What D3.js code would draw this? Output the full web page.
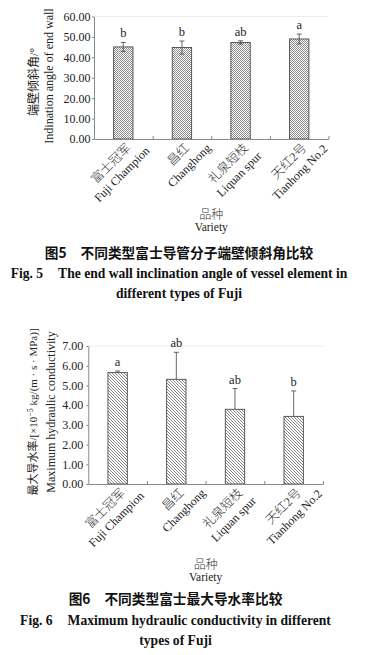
<!DOCTYPE html>
<html>
<head>
<meta charset="utf-8">
<script src="https://cdn.jsdelivr.net/npm/d3@7"></script>
<style>
  html, body { margin: 0; padding: 0; background: #fff; }
  svg { display: block; }
</style>
</head>
<body>
<svg id="chart" width="375" height="655"></svg>
<script>
/* Two bar charts (Fig. 5 / Fig. 6) with error bars and significance letters */

const SERIF = '"Liberation Serif", "Noto Sans CJK SC", serif';
const CJK   = '"Noto Sans CJK SC", sans-serif';

// ── data ──
const varietiesCn = ['富士冠军', '昌红', '礼泉短枝', '天红2号'];
const varietiesEn = ['Fuji Champion', 'Changhong', 'Liquan spur', 'Tianhong No.2'];

const angleMean    = [45.1, 44.8, 47.3, 49.0];
const angleErr     = [2.2, 3.2, 0.8, 2.4];
const angleLetters = ['b', 'b', 'ab', 'a'];
const angleTicks   = [0, 10, 20, 30, 40, 50, 60];

const condMean    = [5.65, 5.31, 3.79, 3.43];
const condErr     = [0.08, 1.37, 1.05, 1.29];
const condLetters = ['a', 'ab', 'ab', 'b'];
const condTicks   = [0, 1, 2, 3, 4, 5, 6, 7];

const svg = d3.select('#chart');
const defs = svg.append('defs');

// cross-hatch fill (Fig. 5)
const cross = defs.append('pattern').attr('id', 'cross')
  .attr('width', 2).attr('height', 2).attr('patternUnits', 'userSpaceOnUse');
cross.append('rect').attr('width', 2).attr('height', 2).attr('fill', '#fff');
cross.append('rect').attr('width', 1).attr('height', 1).attr('fill', '#8c8c8c');
cross.append('rect').attr('x', 1).attr('y', 1).attr('width', 1).attr('height', 1).attr('fill', '#8c8c8c');

// diagonal hatch fill (Fig. 6)
const hatch = defs.append('pattern').attr('id', 'hatch')
  .attr('width', 3).attr('height', 3).attr('patternUnits', 'userSpaceOnUse');
hatch.append('rect').attr('width', 3).attr('height', 3).attr('fill', '#fff');
hatch.append('path').attr('d', 'M0,0L3,3M-1,2L1,4M2,-1L4,1')
  .attr('stroke', '#7a7a7a').attr('stroke-width', 0.9);

function drawPanel(cfg) {
  const n = cfg.mean.length;
  const g = svg.append('g');

  const x = d3.scaleBand().domain(d3.range(n))
    .range([cfg.x0, cfg.x1]).paddingInner(0.67).paddingOuter(0.335);
  const xt = d3.scaleLinear().domain([0, n]).range([cfg.x0, cfg.x1]);
  const y = d3.scaleLinear().domain([0, d3.max(cfg.ticks)]).range([cfg.yb, cfg.yt]);

  // faint top line
  g.append('line')
    .attr('x1', cfg.x0).attr('x2', cfg.x1)
    .attr('y1', y(d3.max(cfg.ticks))).attr('y2', y(d3.max(cfg.ticks)))
    .attr('stroke', '#ececec');

  // bars
  g.selectAll('.bar').data(cfg.mean).join('rect')
    .attr('class', 'bar')
    .attr('x', (d, i) => x(i)).attr('width', x.bandwidth())
    .attr('y', d => y(d)).attr('height', d => y(0) - y(d))
    .attr('fill', `url(#${cfg.pattern})`)
    .attr('stroke', '#4a4a4a').attr('stroke-width', 0.9);

  // error bars
  const cap = 2.5;
  cfg.mean.forEach((m, i) => {
    const cx = x(i) + x.bandwidth() / 2;
    const hi = y(m + cfg.err[i]);
    const lo = cfg.twoSided ? y(m - cfg.err[i]) : y(m);
    const eg = g.append('g').attr('stroke', '#555').attr('stroke-width', 0.9);
    eg.append('line').attr('x1', cx).attr('x2', cx).attr('y1', hi).attr('y2', lo);
    eg.append('line').attr('x1', cx - cap).attr('x2', cx + cap).attr('y1', hi).attr('y2', hi);
    if (cfg.twoSided) {
      eg.append('line').attr('x1', cx - cap).attr('x2', cx + cap).attr('y1', lo).attr('y2', lo);
    }
    g.append('text')
      .attr('x', cx).attr('y', hi - 5)
      .attr('text-anchor', 'middle')
      .style('font-family', SERIF).style('font-size', '12.5px').attr('fill', '#222')
      .text(cfg.letters[i]);
  });

  // y axis
  const ya = g.append('g').attr('transform', `translate(${cfg.x0},0)`)
    .call(d3.axisLeft(y).tickValues(cfg.ticks).tickFormat(d3.format('.2f'))
      .tickSize(2).tickSizeOuter(0).tickPadding(cfg.tickPad));
  ya.select('.domain').attr('stroke', '#888');
  ya.selectAll('.tick line').attr('stroke', '#888');
  ya.selectAll('.tick text').style('font-family', SERIF).style('font-size', '12px').attr('fill', '#222');

  // x axis (ticks at category boundaries, pointing up)
  const xa = g.append('g').attr('transform', `translate(0,${cfg.yb})`)
    .call(d3.axisBottom(xt).tickValues(d3.range(1, n + 1)).tickFormat('')
      .tickSize(-3).tickSizeOuter(0));
  xa.select('.domain').attr('stroke', '#888');
  xa.selectAll('.tick line').attr('stroke', '#888');

  // rotated category labels
  cfg.mean.forEach((m, i) => {
    const cx = x(i) + x.bandwidth() / 2;
    const lg = g.append('g').attr('transform', `translate(${cx},${cfg.yb}) rotate(-45)`);
    const cn = lg.append('text')
      .attr('y', 12.7).attr('text-anchor', 'middle')
      .style('font-family', SERIF).style('font-size', '12.5px').style('font-weight', 300).attr('fill', '#333')
      .text(varietiesCn[i]);
    const w = cn.node().getComputedTextLength();
    const c = -1 - w / 2;
    cn.attr('x', c);
    lg.append('text')
      .attr('x', c).attr('y', 28).attr('text-anchor', 'middle')
      .style('font-family', SERIF).style('font-size', '12px').attr('fill', '#222')
      .text(varietiesEn[i]);
  });

  // x title
  const mid = (cfg.x0 + cfg.x1) / 2;
  g.append('text').attr('x', mid).attr('y', cfg.xTitleY)
    .attr('text-anchor', 'middle')
    .style('font-family', CJK).style('font-size', '12px').style('font-weight', 300).attr('fill', '#333')
    .text('品种');
  g.append('text').attr('x', mid).attr('y', cfg.xTitleY + 12)
    .attr('text-anchor', 'middle')
    .style('font-family', SERIF).style('font-size', '11.5px').attr('fill', '#222')
    .text('Variety');

  // y title (two rotated lines)
  const t1 = g.append('text')
    .attr('transform', `translate(${cfg.yTitleX[0]},${cfg.yTitleY[0]}) rotate(-90)`)
    .attr('text-anchor', 'middle')
    .style('font-family', SERIF).style('font-size', cfg.yTitleSize).attr('fill', '#222');
  cfg.yTitleCn.forEach(s => {
    const ts = t1.append('tspan').text(s.t);
    if (s.sup) ts.attr('dy', -4).style('font-size', '8px');
    if (s.after) ts.attr('dy', 4);
  });
  g.append('text')
    .attr('transform', `translate(${cfg.yTitleX[1]},${cfg.yTitleY[1]}) rotate(-90)`)
    .attr('text-anchor', 'middle')
    .style('font-family', SERIF).style('font-size', '12px').attr('fill', '#222')
    .text(cfg.yTitleEn);

  // caption
  const cap1 = g.append('text').attr('x', cfg.capX).attr('y', cfg.capY[0])
    .attr('text-anchor', 'middle')
    .style('font-family', CJK).style('font-size', '13.7px').style('font-weight', 'bold').attr('fill', '#111');
  cap1.append('tspan').text(cfg.capCn[0]);
  cap1.append('tspan').attr('dx', 14).text(cfg.capCn[1]);

  const cap2 = g.append('text').attr('x', cfg.capX).attr('y', cfg.capY[1])
    .attr('text-anchor', 'middle')
    .style('font-family', SERIF).style('font-size', '13.6px').style('font-weight', 'bold').attr('fill', '#111');
  cap2.append('tspan').text(cfg.capEn[0]);
  cap2.append('tspan').attr('dx', 15).text(cfg.capEn[1]);

  g.append('text').attr('x', cfg.capX).attr('y', cfg.capY[2])
    .attr('text-anchor', 'middle')
    .style('font-family', SERIF).style('font-size', '13.6px').style('font-weight', 'bold').attr('fill', '#111')
    .text(cfg.capEn[2]);
}

drawPanel({
  mean: angleMean, err: angleErr, letters: angleLetters, ticks: angleTicks,
  twoSided: true, pattern: 'cross',
  x0: 94, x1: 328.5, yb: 139, yt: 16.5, tickPad: 1.5,
  xTitleY: 219,
  yTitleCn: [{ t: '端壁倾斜角/°' }], yTitleEn: 'Indination angle of end wall',
  yTitleSize: '12px', yTitleX: [37.5, 52.5], yTitleY: [82, 76],
  capX: 179, capY: [257.5, 277.5, 297.5],
  capCn: ['图5', '不同类型富士导管分子端壁倾斜角比较'],
  capEn: ['Fig. 5', 'The end wall inclination angle of vessel element in', 'different types of Fuji']
});

drawPanel({
  mean: condMean, err: condErr, letters: condLetters, ticks: condTicks,
  twoSided: false, pattern: 'hatch',
  x0: 88.3, x1: 323, yb: 484, yt: 346, tickPad: 3,
  xTitleY: 568.5,
  yTitleCn: [{ t: '最大导水率/[×10' }, { t: '−5', sup: true }, { t: ' kg/(m · s · MPa)]', after: true }],
  yTitleEn: 'Maximum hydraulic conductivity',
  yTitleSize: '11px', yTitleX: [36.5, 55], yTitleY: [412, 412],
  capX: 175.5, capY: [604, 624.5, 645],
  capCn: ['图6', '不同类型富士最大导水率比较'],
  capEn: ['Fig. 6', 'Maximum hydraulic conductivity in different', 'types of Fuji']
});
</script>
</body>
</html>
